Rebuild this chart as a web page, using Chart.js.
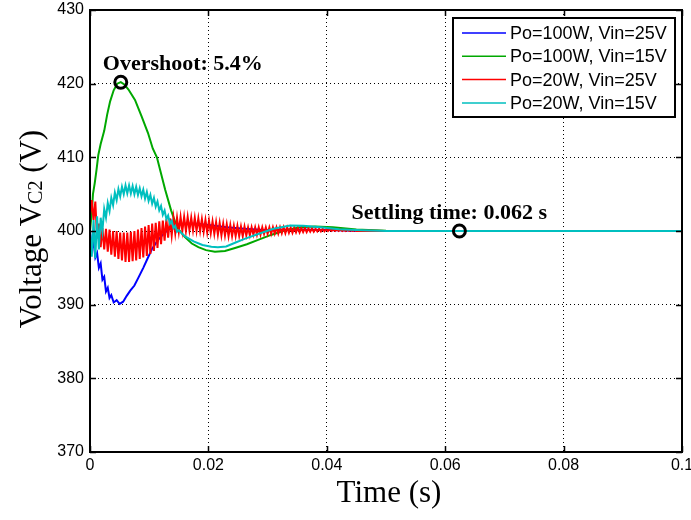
<!DOCTYPE html>
<html>
<head>
<meta charset="utf-8">
<script src="https://cdn.jsdelivr.net/npm/chart.js@4.4.1/dist/chart.umd.min.js"></script>
<style>
  html, body { margin: 0; padding: 0; background: #fff; }
  #wrap { width: 691px; height: 520px; }
</style>
</head>
<body>
<div id="wrap"><canvas id="myChart" width="691" height="520"></canvas></div>
<script>
// Axis ticks
const xTicks = [0, 0.02, 0.04, 0.06, 0.08, 0.1];
const xTickLabels = ['0', '0.02', '0.04', '0.06', '0.08', '0.1'];
const yTicks = [370, 380, 390, 400, 410, 420, 430];

const seriesNames = ['Po=100W, Vin=25V', 'Po=100W, Vin=15V', 'Po=20W, Vin=25V', 'Po=20W, Vin=15V'];
const seriesColors = ['#0000ff', '#00a800', '#ff0000', '#00bfbf'];

// Po=100W, Vin=25V
const blueT = [0, 0.0003, 0.0006, 0.0009, 0.0012, 0.0015, 0.0018, 0.0021, 0.0024, 0.0027, 0.003, 0.0033, 0.0036, 0.004, 0.0045,
  0.005, 0.0056, 0.0062, 0.0068, 0.0075, 0.0082, 0.009, 0.0098, 0.0105, 0.0115, 0.0125, 0.0135, 0.0148, 0.016, 0.018,
  0.02, 0.023, 0.026, 0.03, 0.034, 0.04, 0.045, 0.05, 0.06, 0.08, 0.1];
const blueV = [400, 397.5, 398.6, 396.4, 397.0, 395.0, 395.6, 393.4, 393.8, 391.8, 392.3, 390.9, 391.3, 390.3, 390.6,
  390.1, 390.4, 391.2, 391.9, 392.6, 393.7, 395.0, 396.4, 397.6, 398.8, 399.7, 400.3, 400.8, 401.0, 401.0,
  400.8, 400.5, 400.3, 400.1, 400.2, 400.15, 400.05, 400, 400, 400, 400];

// Po=100W, Vin=15V
const greenT = [0, 0.0003, 0.0005, 0.0008, 0.0011, 0.0014, 0.0018, 0.0024, 0.0029, 0.0034, 0.004, 0.0046, 0.0052, 0.0058,
  0.0065, 0.0076, 0.0087, 0.0098, 0.0106, 0.0113, 0.0127, 0.0137, 0.0147, 0.016, 0.0172, 0.0183, 0.0196, 0.0211,
  0.0228, 0.0245, 0.0265, 0.0284, 0.0307, 0.033, 0.0355, 0.038, 0.041, 0.045, 0.05, 0.06, 0.08, 0.1];
const greenV = [400, 402.5, 405, 406.5, 408.3, 410.3, 411.8, 413.6, 415.8, 417.6, 419.1, 420.0, 420.2, 419.9,
  419.2, 417.8, 415.6, 413.3, 411.2, 410.0, 405.6, 402.8, 400.5, 399.2, 398.3, 397.8, 397.4, 397.2,
  397.3, 397.7, 398.2, 398.8, 399.5, 400.1, 400.5, 400.6, 400.5, 400.2, 400.05, 400, 400, 400];

// switching ripple sampled every 0.0003 s
const rippleStep = 0.0003;

// Po=20W, Vin=25V
const redRipple = [
  402.0, 404.2, 401.5, 404.0, 399.0, 401.0, 397.8, 400.4, 397.5, 400.3,
  397.2, 400.2, 396.8, 400.0, 396.5, 400.0, 396.2, 399.8, 396.0, 399.8,
  395.8, 399.8, 395.8, 399.9, 395.9, 400.0, 396.0, 400.2, 396.2, 400.4,
  396.4, 400.6, 396.6, 400.8, 396.9, 401.0, 397.3, 401.1, 397.7, 401.3,
  398.2, 401.4, 398.7, 401.6, 399.1, 401.7, 399.4, 401.8, 399.7, 401.8,
  399.9, 401.9, 400.0, 401.9, 400.0, 401.9, 400.1, 401.8, 400.1, 401.8,
  400.0, 401.7, 400.0, 401.6, 399.9, 401.5, 399.8, 401.4, 399.7, 401.3,
  399.6, 401.2, 399.5, 401.1, 399.4, 401.0, 399.4, 400.9, 399.3, 400.8,
  399.3, 400.7, 399.3, 400.7, 399.3, 400.6, 399.3, 400.6, 399.4, 400.5,
  399.4, 400.5, 399.5, 400.5, 399.5, 400.5, 399.5, 400.5, 399.6, 400.5,
  399.6, 400.5, 399.6, 400.5, 399.65, 400.5, 399.65, 400.5, 399.7, 400.5,
  399.7, 400.5, 399.75, 400.45, 399.75, 400.45, 399.8, 400.45, 399.8, 400.4,
  399.85, 400.4, 399.85, 400.35, 399.9, 400.35, 399.9, 400.3, 399.95, 400.3,
  399.95, 400.3, 399.95, 400.25, 400.0, 400.25, 400.0, 400.2, 400.0, 400.2,
  400.0, 400.2, 400.0, 400.15, 400.0, 400.15, 400.0, 400.1, 400.0, 400.1, 400.0
];
const redTailT = [0.047, 0.05, 0.06, 0.08, 0.1];
const redTailV = [400.05, 400, 400, 400, 400];

// Po=20W, Vin=15V
const cyanRipple = [
  400.0, 396.5, 401.5, 396.3, 402.0, 397.5, 401.8, 400.0, 403.0, 401.8,
  403.8, 402.7, 404.5, 403.5, 405.2, 404.2, 405.7, 404.7, 406.0, 405.0,
  406.2, 405.1, 406.2, 405.1, 406.1, 405.0, 406.0, 404.9, 405.8, 404.7,
  405.6, 404.4, 405.3, 404.1, 404.9, 403.7, 404.5, 403.3, 404.0, 402.8,
  403.4, 402.2, 402.8, 401.6, 402.1, 401.0, 401.4, 400.4, 400.7, 399.9, 400.1
];
const cyanTailT = [0.016, 0.0175, 0.019, 0.0205, 0.0216, 0.023, 0.0245, 0.026, 0.0284, 0.031, 0.0338,
  0.036, 0.039, 0.042, 0.046, 0.05, 0.06, 0.08, 0.1];
const cyanTailV = [399.3, 398.6, 398.1, 397.85, 397.8, 397.9, 398.4, 398.9, 399.6, 400.3, 400.75,
  400.7, 400.5, 400.25, 400.1, 400.0, 400.0, 400.0, 400.0];

// annotated points: overshoot peak and settling time
const markerT = [0.0052, 0.0624];
const markerV = [420.2, 400];
const markerText = ['Overshoot: 5.4%', 'Settling time: 0.062 s'];

function pairs(ts, vs) {
  return ts.map(function (t, i) { return { x: t, y: vs[i] }; });
}
function ripplePoints(vals, tailT, tailV) {
  const pts = vals.map(function (v, i) { return { x: i * rippleStep, y: v }; });
  return pts.concat(pairs(tailT, tailV));
}

const seriesData = [
  pairs(blueT, blueV),
  pairs(greenT, greenV),
  ripplePoints(redRipple, redTailT, redTailV),
  ripplePoints(cyanRipple, cyanTailT, cyanTailV)
];

const datasets = seriesData.map(function (d, i) {
  return {
    label: seriesNames[i],
    data: d,
    borderColor: seriesColors[i],
    backgroundColor: seriesColors[i],
    borderWidth: 2,
    pointRadius: 0,
    tension: 0,
    order: 4 - i   // later series drawn on top, like the original plot
  };
});
datasets.push({
  label: 'markers',
  data: pairs(markerT, markerV),
  showLine: false,
  pointRadius: 6,
  pointBorderWidth: 3,
  pointBorderColor: '#000',
  pointBackgroundColor: 'rgba(0,0,0,0)',
  order: 0
});

const tickFont = { family: "Arial, 'Liberation Sans'", size: 16 };

// frame, inward ticks, legend, annotation text and axis titles
const decor = {
  id: 'decor',
  afterDraw(chart) {
    const { ctx, chartArea: a, scales: { x, y } } = chart;
    ctx.save();

    // inward tick marks on all four sides
    ctx.strokeStyle = '#000';
    ctx.lineWidth = 1.5;
    ctx.beginPath();
    xTicks.forEach(function (v) {
      const px = Math.round(x.getPixelForValue(v)) + 0.5;
      ctx.moveTo(px, a.bottom); ctx.lineTo(px, a.bottom - 6);
      ctx.moveTo(px, a.top); ctx.lineTo(px, a.top + 6);
    });
    yTicks.forEach(function (v) {
      const py = Math.round(y.getPixelForValue(v)) + 0.5;
      ctx.moveTo(a.left, py); ctx.lineTo(a.left + 6, py);
      ctx.moveTo(a.right, py); ctx.lineTo(a.right - 6, py);
    });
    ctx.stroke();

    // plot box
    ctx.lineWidth = 2;
    ctx.strokeRect(a.left, a.top, a.right - a.left, a.bottom - a.top);

    // legend box inside the plot
    const lx = a.right - 229, ly = a.top + 8, lw = 222, lh = 99;
    ctx.fillStyle = '#fff';
    ctx.fillRect(lx, ly, lw, lh);
    ctx.lineWidth = 2;
    ctx.strokeStyle = '#000';
    ctx.strokeRect(lx, ly, lw, lh);
    ctx.font = "18px Arial, 'Liberation Sans'";
    ctx.textBaseline = 'middle';
    ctx.textAlign = 'left';
    seriesNames.forEach(function (name, i) {
      const rowY = ly + 15 + i * 23.3;
      ctx.strokeStyle = seriesColors[i];
      ctx.lineWidth = 1.5;
      ctx.beginPath();
      ctx.moveTo(lx + 9, rowY); ctx.lineTo(lx + 53, rowY);
      ctx.stroke();
      ctx.fillStyle = '#000';
      ctx.fillText(name, lx + 57, rowY + 1);
    });

    // annotation labels beside the two marked points
    ctx.font = "bold 22px 'Times New Roman', 'Liberation Serif'";
    ctx.textBaseline = 'alphabetic';
    ctx.fillStyle = '#000';
    const m0x = x.getPixelForValue(markerT[0]), m0y = y.getPixelForValue(markerV[0]);
    ctx.fillText(markerText[0], m0x - 18, m0y - 12);
    const m1x = x.getPixelForValue(markerT[1]), m1y = y.getPixelForValue(markerV[1]);
    ctx.fillText(markerText[1], m1x - 108, m1y - 12);

    // x axis title
    ctx.font = "31px 'Times New Roman', 'Liberation Serif'";
    ctx.textAlign = 'center';
    ctx.textBaseline = 'middle';
    ctx.fillText('Time (s)', (a.left + a.right) / 2 + 3, 494);

    // y axis title with subscript
    ctx.translate(31, (a.top + a.bottom) / 2 - 2);
    ctx.rotate(-Math.PI / 2);
    const big = "31px 'Times New Roman', 'Liberation Serif'";
    const small = "20px 'Times New Roman', 'Liberation Serif'";
    const parts = [['Voltage V', big, 0], ['C2', small, 1], [' (V)', big, 0]];
    let total = 0;
    parts.forEach(function (p) { ctx.font = p[1]; total += ctx.measureText(p[0]).width; });
    let cx = -total / 2;
    ctx.textAlign = 'left';
    ctx.textBaseline = 'alphabetic';
    parts.forEach(function (p) {
      ctx.font = p[1];
      ctx.fillText(p[0], cx, 10 + p[2]);
      cx += ctx.measureText(p[0]).width;
    });
    ctx.restore();
  }
};

var chartArea = document.getElementById('myChart');

const chartContent = new Chart(chartArea, {
  type: 'line',
  data: { datasets: datasets },
  options: {
    responsive: false,
    animation: false,
    parsing: true,
    layout: { padding: { top: 10, right: 9, left: 0, bottom: 0 } },
    plugins: {
      legend: { display: false },
      tooltip: { enabled: false }
    },
    scales: {
      x: {
        type: 'linear',
        min: 0,
        max: 0.1,
        afterFit: function (s) { s.height = 68; s.paddingLeft = 0; s.paddingRight = 0; },
        afterBuildTicks: function (s) { s.ticks = xTicks.map(function (v) { return { value: v }; }); },
        ticks: {
          font: tickFont,
          color: '#000',
          padding: 4,
          maxRotation: 0,
          autoSkip: false,
          callback: function (v, i) { return xTickLabels[i]; }
        },
        grid: { color: '#000', lineWidth: 1, drawTicks: false },
        border: { display: false, dash: [1, 3] }
      },
      y: {
        type: 'linear',
        min: 370,
        max: 430,
        afterFit: function (s) { s.width = 90; s.paddingTop = 0; s.paddingBottom = 0; },
        afterBuildTicks: function (s) { s.ticks = yTicks.map(function (v) { return { value: v }; }); },
        ticks: {
          font: tickFont,
          color: '#000',
          padding: 6,
          autoSkip: false
        },
        grid: { color: '#000', lineWidth: 1, drawTicks: false },
        border: { display: false, dash: [1, 3] }
      }
    }
  },
  plugins: [decor]
});
</script>
</body>
</html>
